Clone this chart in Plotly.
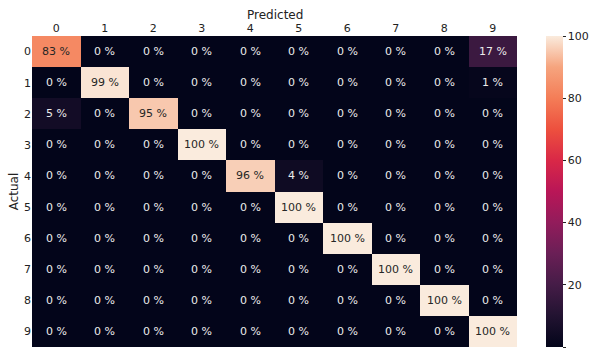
import plotly.graph_objects as go

classes = [0, 1, 2, 3, 4, 5, 6, 7, 8, 9]
row0 = [83, 0, 0, 0, 0, 0, 0, 0, 0, 17]
row1 = [0, 99, 0, 0, 0, 0, 0, 0, 0, 1]
row2 = [5, 0, 95, 0, 0, 0, 0, 0, 0, 0]
row3 = [0, 0, 0, 100, 0, 0, 0, 0, 0, 0]
row4 = [0, 0, 0, 0, 96, 4, 0, 0, 0, 0]
row5 = [0, 0, 0, 0, 0, 100, 0, 0, 0, 0]
row6 = [0, 0, 0, 0, 0, 0, 100, 0, 0, 0]
row7 = [0, 0, 0, 0, 0, 0, 0, 100, 0, 0]
row8 = [0, 0, 0, 0, 0, 0, 0, 0, 100, 0]
row9 = [0, 0, 0, 0, 0, 0, 0, 0, 0, 100]
z = [row0, row1, row2, row3, row4, row5, row6, row7, row8, row9]
cbar_ticks = [0, 20, 40, 60, 80, 100]

rocket = [
    [0.0, "#03051A"], [0.1, "#221331"], [0.2, "#451C47"], [0.3, "#6A1F56"],
    [0.4, "#921C5B"], [0.5, "#B91657"], [0.6, "#D92847"], [0.7, "#ED503E"],
    [0.8, "#F47D57"], [0.9, "#F6A47E"], [1.0, "#FAEBDD"],
]

FONT = "DejaVu Sans"
W, H = 591, 349
L, R, T, B = 32, 74, 36, 2
plot_w = W - L - R
plot_h = H - T - B

fig = go.Figure(go.Heatmap(
    z=z, x=classes, y=classes, zmin=0, zmax=100, colorscale=rocket,
    xgap=0, ygap=0, hoverinfo="skip",
    colorbar=dict(
        x=(546 - L) / plot_w, xanchor="left", thickness=17, thicknessmode="pixels",
        len=1, lenmode="fraction", y=0.5, yanchor="middle",
        tickvals=cbar_ticks, ticks="outside", ticklen=3, tickcolor="#222",
        tickfont=dict(family=FONT, size=11, color="#222"), outlinewidth=0,
        xpad=0, ypad=0,
    ),
))

annotations = []
for i, row in enumerate(z):
    for j, v in enumerate(row):
        annotations.append(dict(
            x=classes[j], y=classes[i], xref="x", yref="y", text=f"{v} %",
            showarrow=False,
            font=dict(family=FONT, size=11, color="#262626" if v > 60 else "#ebebeb"),
        ))
annotations.append(dict(
    text="Predicted", xref="paper", yref="paper", x=0.5, y=1 + (36 - 15) / plot_h,
    xanchor="center", yanchor="middle", showarrow=False,
    font=dict(family=FONT, size=12, color="#222"),
))

fig.update_layout(
    width=W, height=H,
    margin=dict(l=L, r=R, t=T, b=B, autoexpand=False),
    paper_bgcolor="white", plot_bgcolor="white",
    annotations=annotations,
    font=dict(family=FONT, size=11, color="#222"),
    xaxis=dict(side="top", tickmode="array", tickvals=classes, ticks="",
               showgrid=False, zeroline=False, automargin=False,
               ticklabelstandoff=1, tickfont=dict(size=11)),
    yaxis=dict(autorange="reversed", tickmode="array", tickvals=classes, ticks="",
               showgrid=False, zeroline=False, automargin=False,
               title=dict(text="Actual", standoff=2, font=dict(size=12)),
               tickfont=dict(size=11)),
)

fig.write_html(
    "out.html",
    config={"displayModeBar": False},
    post_script="document.body.style.margin='0';document.body.style.overflow='hidden';",
)
